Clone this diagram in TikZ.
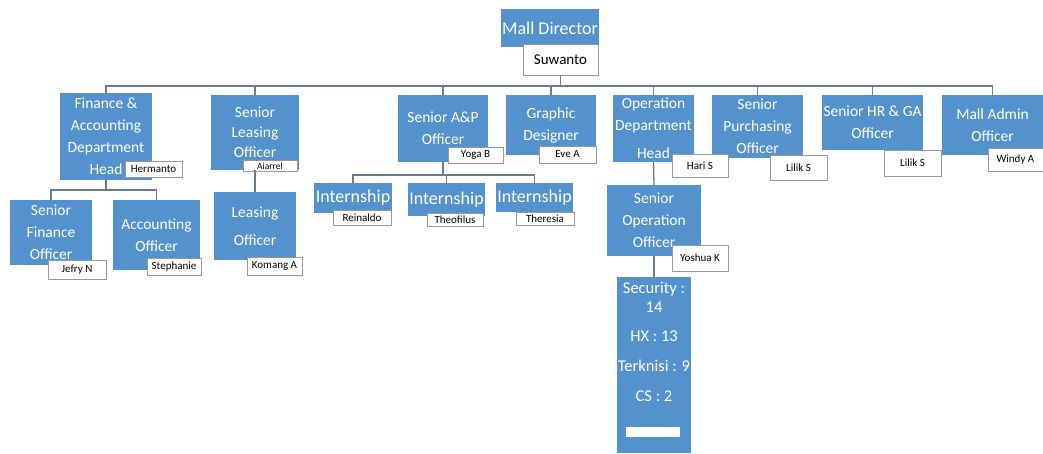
\documentclass[tikz,border=0pt]{standalone}
\usepackage{fontspec}
\setmainfont{Carlito}
\usepackage{xcolor}
\definecolor{postblue}{RGB}{84,146,206}
\definecolor{linkgray}{RGB}{105,122,148}

\tikzset{
	post/.style={fill=postblue, text=white, align=center, inner sep=1pt, font=\fontsize{15.5}{22}\selectfont},
	holder/.style={draw=gray!80, fill=white, text=black, inner sep=1pt, font=\fontsize{11}{12}\selectfont},
	link/.style={draw=linkgray, line width=1.3pt}
}

\begin{document}
\begin{tikzpicture}[x=1pt, y=-1pt]
		\useasboundingbox (0,0) rectangle (1043,453);
		
		% top
		\node[post, minimum width=98, minimum height=38, font=\fontsize{18}{20}\selectfont] (dir) at (550,28) {Mall Director};
		\node[holder, minimum width=75, minimum height=31, font=\fontsize{15}{16}\selectfont] (suw) at (560.5,59.5) {Suwanto};
		\coordinate (bus) at (560.5,86);
		
		% first row
		\node[post, minimum width=92, minimum height=87] (fin) at (106,136.5) {Finance \&\\Accounting\\Department\\Head};
		\node[post, minimum width=88, minimum height=75, font=\fontsize{15.5}{20}\selectfont] (sls) at (255,132.5) {Senior\\Leasing\\Officer};
		\node[post, minimum width=90, minimum height=67] (anp) at (443,128.5) {Senior A\&P\\Officer};
		\node[post, minimum width=90, minimum height=60] (gfx) at (551,125) {Graphic\\Designer};
		\node[post, minimum width=81, minimum height=67] (ops) at (653.5,128.5) {Operation\\Department\\[6pt]Head};
		\node[post, minimum width=91, minimum height=63] (pur) at (757.5,126.5) {Senior\\Purchasing\\Officer};
		\node[post, minimum width=101, minimum height=55] (hrd) at (872.5,122.5) {Senior HR \& GA\\Officer};
		\node[post, minimum width=101, minimum height=60] (adm) at (992.5,125) {Mall Admin\\Officer};
		
		% second row
		\node[post, minimum width=82, minimum height=65] (sfo) at (51,232.5) {Senior\\Finance\\Officer};
		\node[post, minimum width=87, minimum height=70] (aco) at (156.5,235) {Accounting\\Officer};
		\node[post, minimum width=82, minimum height=68] (lso) at (255,226) {Leasing\\[6pt]Officer};
		\node[post, minimum width=78, minimum height=30, font=\fontsize{18}{20}\selectfont] (int1) at (353,198) {Internship};
		\node[post, minimum width=75, minimum height=33, font=\fontsize{18}{20}\selectfont] (int2) at (446.5,199.5) {Internship};
		\node[post, minimum width=67, minimum height=29, font=\fontsize{18}{20}\selectfont] (int3) at (534.5,197.5) {Internship};
		\node[post, minimum width=94, minimum height=71] (soo) at (654,220.5) {Senior\\Operation\\Officer};
		
		% staff count
		\node[post, minimum width=74, minimum height=176] (sec) at (654,365) {};
		\node[post, fill=none, anchor=north, font=\fontsize{16.5}{19}\selectfont] (secinfo) at ([yshift=-4]sec.north) {Security :\\14\\[10pt]HX : 13\\[11pt]Terknisi : 9\\[11pt]CS : 2};
		\node[fill=white, minimum width=54, minimum height=10, inner sep=0pt] (secbar) at (653,432) {};
		
		% names
		\node[holder, minimum width=57, minimum height=16] (hermanto) at (153.5,169) {Hermanto};
		\node[holder, minimum width=54, minimum height=11, inner ysep=0.5pt, font=\fontsize{9.5}{10}\selectfont] (aiarrel) at (270,166) {Aiarrel};
		\node[holder, minimum width=55, minimum height=16] (yoga) at (475.5,155) {Yoga B};
		\node[holder, minimum width=57, minimum height=17] (eve) at (567.5,154.5) {Eve A};
		\node[holder, minimum width=56, minimum height=23] (hari) at (700,165.5) {Hari S};
		\node[holder, minimum width=57, minimum height=25] (lilik1) at (798.5,167.5) {Lilik S};
		\node[holder, minimum width=57, minimum height=26] (lilik2) at (912.5,163) {Lilik S};
		\node[holder, minimum width=55, minimum height=23] (windy) at (1015.5,159.5) {Windy A};
		\node[holder, minimum width=58, minimum height=19] (jefry) at (77,269.5) {Jefry N};
		\node[holder, minimum width=54, minimum height=17] (steph) at (174,266.5) {Stephanie};
		\node[holder, minimum width=55, minimum height=18] (komang) at (274.5,266) {Komang A};
		\node[holder, minimum width=58, minimum height=15] (reinaldo) at (362,217.5) {Reinaldo};
		\node[holder, minimum width=56, minimum height=13] (theo) at (455,219.5) {Theofilus};
		\node[holder, minimum width=58, minimum height=13] (theresia) at (545,218.5) {Theresia};
		\node[holder, minimum width=56, minimum height=26] (yoshua) at (700,258) {Yoshua K};
		
		% links
		\begin{scope}[link]
			\draw (suw.south) -- (bus);
			\foreach \n in {fin, sls, anp, gfx, ops, pur, hrd, adm}
				\draw (\n.north) |- (bus);
			
			\coordinate (finbus) at (106,190);
			\draw (fin.south) -- (finbus);
			\draw (sfo.north) |- (finbus);
			\draw (aco.north) |- (finbus);
			
			\draw (sls.south) -- (lso.north);
			
			\coordinate (anpbus) at (443,175);
			\draw (anp.south) -- (anpbus);
			\foreach \n in {int1, int2, int3}
				\draw (\n.north) |- (anpbus);
			
			\draw (ops.south) -- (soo.north);
			\draw (soo.south) -- (sec.north);
		\end{scope}
	\end{tikzpicture}
\end{document}
